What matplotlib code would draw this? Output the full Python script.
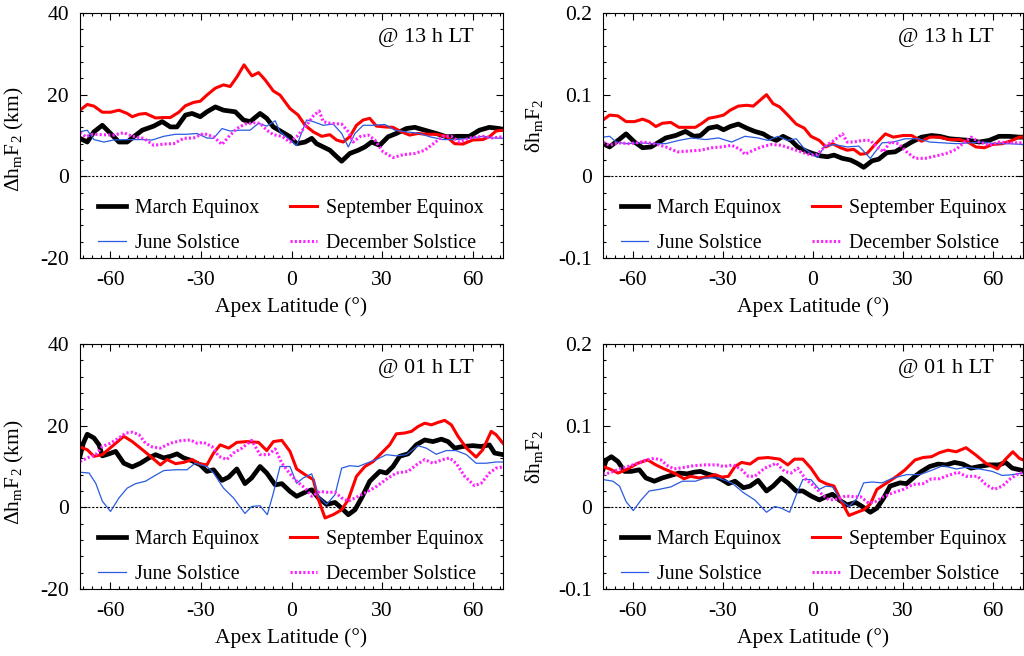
import matplotlib
matplotlib.use("Agg")
import matplotlib.pyplot as plt
from matplotlib.ticker import MultipleLocator, FuncFormatter

plt.rcParams["font.family"] = ["Liberation Serif", "DejaVu Serif"]
plt.rcParams["mathtext.fontset"] = "custom"
plt.rcParams["mathtext.rm"] = "Liberation Serif"
plt.rcParams["mathtext.it"] = "Liberation Serif:italic"
plt.rcParams["font.size"] = 15

# ---------------- 13 h LT, absolute difference (km) ----------------
d13_mar_lat = [-70, -67.6, -65.4, -62.6, -59.9, -57.1, -54.4, -52.2, -49.4, -45.6, -42.8, -40.1, -37.9,
               -35.1, -32.9, -30.2, -28.0, -25.2, -22.5, -18.6, -15.9, -13.7, -10.4, -8.2, -6.0, -3.2,
               -0.5, 1.7, 4.5, 6.7, 8.3, 10.5, 12.7, 14.4, 16.6, 19.3, 22.1, 24.3, 26.5, 29.2, 32.0,
               34.7, 38.0, 40.8, 44.1, 47.9, 51.2, 55.1, 58.9, 62.2, 65.5, 68.8, 70]
d13_mar_val = [9.3, 8.4, 10.9, 12.5, 10.5, 8.4, 8.4, 9.7, 11.3, 12.3, 13.4, 12.1, 12.1,
               15.0, 15.4, 14.6, 15.8, 17.0, 16.2, 15.8, 13.8, 13.4, 15.4, 14.2, 12.1, 10.9,
               9.7, 8.0, 8.4, 9.3, 8.0, 7.2, 6.4, 5.2, 3.7, 5.6, 6.4, 7.2, 8.4, 7.6, 9.7,
               10.5, 11.7, 12.0, 11.3, 10.5, 9.7, 9.8, 9.8, 11.3, 12.0, 11.7, 11.5]

d13_sep_lat = [-70, -67.6, -65.4, -62.6, -59.9, -57.1, -54.4, -52.7, -50.5, -48.3, -45.0, -42.3, -40.1,
               -37.3, -35.1, -32.4, -30.2, -28.0, -25.2, -22.5, -20.3, -18.1, -15.7, -13.1, -10.9, -8.7,
               -6.0, -3.8, -0.5, 2.2, 4.5, 7.2, 10.0, 12.7, 14.9, 17.1, 19.3, 21.5, 23.7, 25.9, 28.1,
               30.9, 33.6, 36.4, 39.1, 41.9, 44.6, 47.9, 51.2, 54.0, 56.7, 60.0, 63.3, 65.5, 67.7, 70]
d13_sep_val = [16.2, 17.6, 17.2, 15.7, 15.7, 16.2, 15.4, 14.6, 15.2, 15.4, 14.3, 14.4, 14.4,
               15.7, 17.3, 18.1, 18.4, 19.9, 21.6, 22.4, 22.0, 24.3, 27.3, 24.6, 25.4, 23.6,
               20.9, 19.9, 16.6, 15.0, 12.5, 10.9, 9.8, 10.2, 8.9, 8.4, 9.7, 12.5, 13.8, 14.2, 12.3,
               12.1, 12.0, 10.9, 10.1, 10.5, 10.3, 10.3, 9.8, 8.0, 7.9, 8.9, 9.0, 9.7, 11.1, 11.3]

d13_jun_lat = [-70, -67.6, -65.4, -62.1, -58.8, -54.4, -50.0, -46.1, -42.3, -38.4, -34.6, -31.3, -28.0,
               -25.8, -23.0, -20.3, -17.0, -13.7, -10.9, -8.2, -5.4, -3.8, -0.5, 1.7, 5.0, 7.2, 10.5,
               13.8, 16.6, 18.8, 21.0, 23.7, 27.0, 30.9, 34.2, 38.0, 42.4, 45.7, 50.1, 54.5, 58.9,
               63.3, 66.6, 70]
d13_jun_val = [10.9, 11.3, 9.0, 8.4, 8.9, 9.0, 9.0, 8.9, 9.8, 10.3, 10.3, 10.5, 9.4,
               9.3, 11.7, 11.1, 11.3, 11.3, 13.0, 12.3, 13.6, 10.9, 8.9, 7.5, 13.8, 13.4, 12.5,
               12.8, 10.5, 7.2, 10.5, 12.5, 12.5, 12.7, 11.3, 10.9, 10.5, 9.7, 9.0, 9.0, 9.3,
               9.8, 9.4, 9.3]

d13_dec_lat = [-70, -68.1, -65.9, -62.6, -58.8, -55.5, -52.7, -48.9, -45.6, -42.3, -39.0, -35.7, -32.4,
               -29.1, -25.8, -23.0, -20.8, -18.1, -15.4, -12.6, -10.4, -8.2, -6.0, -3.2, -0.5, 1.7,
               5.0, 7.2, 9.2, 10.5, 12.7, 16.6, 18.8, 20.4, 22.6, 25.4, 27.6, 30.3, 33.6, 36.9, 40.8,
               44.1, 46.8, 50.1, 52.9, 55.6, 58.9, 63.3, 66.6, 70]
d13_dec_val = [10.7, 9.7, 10.3, 10.2, 10.1, 10.7, 9.8, 9.3, 7.6, 7.9, 8.0, 9.3, 9.4,
               10.5, 9.7, 7.8, 9.7, 11.7, 12.8, 13.1, 13.0, 11.3, 10.2, 9.8, 8.4, 9.7,
               12.5, 14.8, 16.0, 13.4, 13.0, 12.8, 10.9, 8.4, 9.7, 10.1, 8.9, 6.0, 4.6, 5.3, 5.6,
               6.4, 7.9, 9.8, 9.8, 8.4, 9.4, 9.8, 9.4, 9.7]

# ---------------- 13 h LT, relative difference ----------------
r13_mar_lat = [-70, -67.8, -65.0, -62.3, -59.5, -56.8, -54.0, -51.3, -49.1, -45.8, -42.5, -39.7, -37.5,
               -34.8, -32.0, -29.8, -27.6, -24.9, -22.1, -19.4, -16.6, -14.4, -12.2, -10.0, -7.3, -5.1,
               -2.3, -0.1, 2.6, 4.8, 7.0, 9.8, 12.5, 14.7, 16.9, 19.7, 21.9, 24.6, 27.4, 30.1, 32.9,
               36.2, 39.5, 42.2, 45.5, 48.8, 52.1, 55.4, 58.7, 62.0, 65.3, 68.8, 70]
r13_mar_val = [0.040, 0.036, 0.044, 0.052, 0.042, 0.035, 0.036, 0.042, 0.047, 0.050, 0.055, 0.049, 0.050,
               0.059, 0.061, 0.057, 0.061, 0.064, 0.059, 0.055, 0.052, 0.047, 0.044, 0.049, 0.044, 0.036,
               0.031, 0.028, 0.025, 0.024, 0.026, 0.022, 0.020, 0.016, 0.011, 0.019, 0.021, 0.029, 0.030,
               0.036, 0.042, 0.048, 0.050, 0.049, 0.046, 0.045, 0.044, 0.042, 0.044, 0.049, 0.049, 0.048,
               0.048]

r13_sep_lat = [-70, -67.8, -65.0, -62.3, -59.5, -56.8, -54.6, -52.4, -50.2, -47.4, -44.7, -41.9, -39.2,
               -37.0, -34.8, -32.0, -29.8, -27.6, -24.9, -22.1, -19.9, -17.7, -15.5, -13.3, -11.1, -8.4,
               -5.6, -2.9, -0.7, 2.1, 4.3, 6.5, 9.2, 11.4, 13.6, 15.8, 18.0, 20.2, 24.1, 26.8, 30.1,
               32.9, 36.2, 38.9, 42.2, 45.5, 48.8, 51.6, 54.3, 57.1, 59.8, 63.1, 66.4, 68.8, 70]
r13_sep_val = [0.069, 0.075, 0.074, 0.067, 0.067, 0.070, 0.067, 0.061, 0.065, 0.066, 0.060, 0.060, 0.060,
               0.065, 0.071, 0.073, 0.075, 0.081, 0.086, 0.087, 0.086, 0.093, 0.100, 0.089, 0.085, 0.075,
               0.064, 0.059, 0.049, 0.044, 0.036, 0.040, 0.035, 0.032, 0.033, 0.027, 0.028, 0.037, 0.052,
               0.048, 0.050, 0.050, 0.043, 0.048, 0.048, 0.045, 0.045, 0.042, 0.036, 0.035, 0.039, 0.040,
               0.044, 0.048, 0.048]

r13_jun_lat = [-70, -67.8, -65.6, -62.3, -57.9, -53.5, -49.1, -44.7, -40.3, -35.9, -31.5, -27.1, -22.7,
               -18.3, -15.0, -11.7, -8.4, -5.6, -2.9, 1.5, 3.7, 7.0, 11.4, 15.3, 19.1, 23.0, 26.8, 30.7,
               35.1, 38.9, 43.3, 47.7, 52.1, 56.5, 60.9, 65.3, 70]
r13_jun_val = [0.048, 0.049, 0.042, 0.040, 0.041, 0.040, 0.040, 0.044, 0.047, 0.045, 0.047, 0.042, 0.049,
               0.047, 0.044, 0.049, 0.044, 0.046, 0.034, 0.023, 0.036, 0.039, 0.036, 0.037, 0.022, 0.041,
               0.042, 0.046, 0.046, 0.042, 0.041, 0.040, 0.041, 0.042, 0.040, 0.040, 0.039]

r13_dec_lat = [-70, -67.8, -65.0, -61.2, -56.8, -52.9, -49.1, -45.2, -41.4, -37.5, -33.7, -30.4, -27.1,
               -24.3, -22.7, -19.9, -17.2, -13.9, -10.6, -7.3, -4.0, -0.7, 1.5, 4.3, 7.0, 9.8, 11.4,
               13.6, 16.4, 19.1, 21.3, 23.5, 25.7, 28.5, 31.2, 34.0, 37.3, 41.1, 44.4, 47.7, 50.5, 52.7,
               55.4, 58.7, 62.0, 65.3, 70]
r13_dec_val = [0.042, 0.038, 0.041, 0.040, 0.042, 0.040, 0.036, 0.030, 0.031, 0.032, 0.035, 0.036, 0.038,
               0.033, 0.027, 0.032, 0.036, 0.039, 0.038, 0.034, 0.030, 0.026, 0.027, 0.038, 0.044, 0.052,
               0.042, 0.042, 0.044, 0.044, 0.036, 0.030, 0.042, 0.040, 0.030, 0.022, 0.022, 0.025, 0.028,
               0.033, 0.042, 0.048, 0.042, 0.038, 0.042, 0.041, 0.041]

# ---------------- 01 h LT, absolute difference (km) ----------------
d01_mar_lat = [-70, -68.9, -67.6, -65.4, -63.7, -62.6, -60.4, -58.2, -55.5, -52.7, -50.0, -47.2, -45.0,
               -42.3, -40.1, -37.9, -35.7, -32.9, -30.2, -28.0, -25.8, -23.0, -20.8, -18.1, -15.4, -13.2,
               -10.4, -8.2, -5.4, -3.2, -0.5, 1.7, 4.5, 6.7, 8.9, 11.6, 14.4, 16.6, 18.8, 21.0, 23.2,
               25.9, 29.2, 31.4, 33.6, 35.8, 38.6, 41.3, 44.1, 46.8, 49.6, 51.8, 54.0, 56.7, 60.0, 62.8,
               65.5, 67.2, 70]
d01_mar_val = [12.5, 15.7, 17.9, 17.0, 15.3, 12.6, 13.1, 13.7, 10.8, 9.9, 10.8, 12.1, 12.9,
               12.1, 12.5, 13.1, 12.1, 11.4, 10.4, 8.8, 9.2, 6.6, 7.4, 9.4, 5.8, 7.2,
               10.0, 8.4, 5.5, 5.8, 3.9, 2.7, 3.7, 4.3, 2.3, 0.7, 1.2, -0.2, -1.8, -0.6, 2.3,
               6.4, 8.8, 8.4, 10.0, 12.5, 13.1, 15.3, 16.5, 16.1, 16.7, 16.1, 14.5, 14.9, 15.1, 14.9,
               15.3, 13.3, 12.9]

d01_sep_lat = [-70, -67.6, -65.4, -62.6, -58.8, -55.5, -52.7, -50.0, -46.7, -43.4, -41.2, -38.4, -35.7,
               -32.9, -30.7, -28.0, -25.8, -23.6, -20.8, -18.1, -14.8, -10.9, -8.2, -6.0, -3.2, -0.5,
               1.7, 4.5, 7.2, 8.9, 11.1, 13.8, 16.6, 18.8, 21.5, 24.3, 27.0, 29.8, 32.5, 34.7, 37.5,
               39.7, 41.9, 44.1, 46.3, 48.5, 50.7, 52.9, 55.1, 57.9, 61.1, 63.3, 66.1, 67.7, 70]
d01_sep_val = [14.8, 14.1, 12.5, 12.9, 15.3, 17.4, 16.1, 14.5, 12.5, 10.4, 11.7, 10.7, 11.0,
               11.7, 10.7, 10.4, 13.3, 15.3, 14.5, 15.9, 16.1, 15.9, 13.9, 16.1, 16.4, 13.7,
               9.4, 8.0, 6.8, 1.9, -2.6, -1.8, -0.6, 1.9, 7.6, 10.0, 11.2, 13.3, 15.3, 18.0, 18.2,
               18.6, 19.8, 20.6, 20.2, 20.8, 21.3, 20.2, 17.4, 14.5, 12.3, 14.1, 18.6, 17.8, 15.7]

d01_jun_lat = [-70, -67.0, -64.8, -62.6, -59.9, -57.1, -54.4, -51.6, -48.3, -45.6, -42.3, -38.4, -34.6,
               -31.9, -28.0, -25.8, -22.5, -19.2, -15.4, -13.2, -10.4, -8.0, -6.0, -3.8, -0.5, 1.7,
               3.9, 6.7, 8.9, 11.6, 14.4, 16.6, 19.3, 22.1, 24.8, 28.1, 31.4, 34.7, 38.0, 41.9, 44.6,
               47.9, 51.2, 54.5, 57.9, 61.1, 64.4, 67.7, 70]
d01_jun_val = [8.6, 8.4, 5.9, 1.5, -1.0, 2.3, 4.7, 5.8, 6.4, 7.6, 9.0, 9.2, 9.2,
               10.8, 10.0, 8.4, 4.7, 2.3, -1.5, 0.2, 0.4, -1.8, 3.5, 10.0, 10.0, 5.9,
               7.2, 8.2, 2.7, 0.7, 3.1, 9.6, 10.2, 10.0, 10.8, 11.7, 12.9, 12.6, 12.9, 15.1, 14.5,
               13.0, 13.9, 13.9, 12.9, 10.8, 10.8, 11.1, 11.1]

d01_dec_lat = [-70, -67.6, -64.8, -62.6, -59.9, -57.1, -54.9, -52.7, -50.5, -48.3, -46.1, -43.4, -40.1,
               -36.8, -33.5, -31.3, -29.1, -26.3, -24.1, -21.4, -19.2, -16.4, -13.2, -10.4, -7.7, -5.4,
               -3.2, -0.5, 1.7, 4.5, 6.7, 9.4, 11.6, 14.4, 16.6, 18.8, 21.0, 24.3, 28.1, 32.0, 34.7,
               38.6, 41.3, 44.1, 46.8, 50.1, 52.3, 54.5, 57.3, 60.6, 62.8, 65.5, 67.7, 70]
d01_dec_val = [11.2, 12.1, 12.9, 14.9, 15.7, 17.0, 18.2, 18.4, 17.8, 15.7, 14.8, 14.5, 15.7,
               16.3, 16.5, 15.7, 15.9, 14.9, 12.5, 11.7, 13.3, 14.5, 16.4, 12.9, 12.9, 14.3,
               10.8, 8.2, 6.4, 4.7, 2.7, 3.9, 3.7, 3.7, 2.3, 1.5, 2.3, 3.5, 5.1, 7.2, 8.4,
               8.8, 10.4, 11.7, 10.8, 11.7, 12.1, 10.8, 7.6, 5.3, 5.9, 8.4, 9.6, 9.9]

# ---------------- 01 h LT, relative difference ----------------
r01_mar_lat = [-70, -68.9, -67.2, -65.0, -62.8, -60.6, -57.9, -55.7, -52.9, -50.2, -47.4, -44.7, -41.9,
               -39.7, -37.5, -35.3, -32.6, -30.4, -28.2, -26.0, -23.2, -21.0, -18.3, -15.5, -13.3, -10.6,
               -8.4, -5.6, -3.4, -0.7, 2.1, 4.3, 6.5, 8.7, 11.4, 14.2, 16.4, 19.1, 21.3, 23.5, 25.7,
               29.0, 31.2, 34.0, 36.2, 38.9, 41.7, 44.4, 47.2, 49.9, 52.7, 55.4, 58.7, 62.0, 64.2, 66.4,
               68.8, 70]
r01_mar_val = [0.046, 0.058, 0.062, 0.056, 0.044, 0.044, 0.046, 0.036, 0.032, 0.036, 0.039, 0.042, 0.041,
               0.043, 0.044, 0.041, 0.038, 0.034, 0.029, 0.032, 0.024, 0.026, 0.033, 0.020, 0.026, 0.036,
               0.030, 0.020, 0.020, 0.014, 0.009, 0.013, 0.016, 0.009, 0.003, 0.006, 0.001, -0.006,
               -0.001, 0.011, 0.026, 0.030, 0.029, 0.038, 0.044, 0.050, 0.053, 0.052, 0.055, 0.053, 0.048,
               0.050, 0.052, 0.052, 0.055, 0.048, 0.046, 0.045]

r01_sep_lat = [-70, -67.8, -65.0, -62.3, -58.4, -55.1, -52.4, -49.6, -46.3, -43.0, -40.8, -38.1, -35.3,
               -32.6, -30.4, -28.2, -26.0, -23.8, -21.0, -18.3, -15.0, -11.1, -8.4, -6.2, -3.4, -0.7,
               2.1, 4.3, 7.0, 9.2, 12.0, 14.7, 16.9, 19.1, 21.3, 24.6, 27.9, 30.7, 34.0, 36.7, 39.5,
               42.2, 45.0, 47.7, 51.0, 54.3, 57.6, 61.5, 64.2, 66.6, 68.8, 70]
r01_sep_val = [0.050, 0.047, 0.042, 0.046, 0.054, 0.058, 0.052, 0.047, 0.042, 0.035, 0.038, 0.036, 0.037,
               0.040, 0.037, 0.038, 0.050, 0.055, 0.053, 0.060, 0.061, 0.059, 0.052, 0.059, 0.059, 0.048,
               0.033, 0.029, 0.026, 0.009, -0.010, -0.006, -0.003, 0.004, 0.022, 0.030, 0.038, 0.046,
               0.058, 0.061, 0.062, 0.067, 0.070, 0.068, 0.073, 0.064, 0.054, 0.047, 0.059, 0.068, 0.060,
               0.058]

r01_jun_lat = [-70, -66.7, -64.5, -62.3, -59.9, -57.3, -54.6, -51.3, -47.4, -43.6, -39.2, -35.9, -31.5,
               -27.1, -23.2, -19.4, -15.5, -12.8, -10.6, -7.8, -5.6, -3.4, -0.7, 2.1, 4.3, 6.5, 9.2,
               12.0, 14.7, 16.9, 19.7, 23.0, 26.8, 31.2, 35.6, 40.0, 43.3, 47.7, 51.0, 55.4, 59.8, 63.1,
               66.4, 70]
r01_jun_val = [0.034, 0.032, 0.026, 0.007, -0.004, 0.009, 0.020, 0.022, 0.025, 0.032, 0.032, 0.036, 0.036,
               0.030, 0.018, 0.009, -0.006, 0.001, -0.001, -0.006, 0.015, 0.034, 0.034, 0.022, 0.026,
               0.025, 0.009, 0.001, 0.011, 0.030, 0.031, 0.030, 0.036, 0.040, 0.040, 0.046, 0.051, 0.047,
               0.049, 0.047, 0.044, 0.039, 0.040, 0.042]

r01_dec_lat = [-70, -67.2, -64.5, -61.7, -58.4, -55.7, -52.9, -50.7, -48.5, -46.3, -43.0, -39.7, -35.9,
               -32.0, -29.8, -26.5, -23.8, -21.6, -19.4, -16.1, -12.2, -9.5, -7.3, -5.1, -2.3, 0.4, 3.2,
               5.4, 8.1, 10.9, 13.6, 15.8, 18.6, 20.8, 23.5, 26.8, 30.1, 33.4, 36.7, 39.5, 42.2, 45.0,
               48.3, 51.0, 54.9, 57.6, 60.4, 63.1, 65.8, 68.8, 70]
r01_dec_val = [0.040, 0.043, 0.047, 0.050, 0.054, 0.058, 0.060, 0.058, 0.051, 0.047, 0.049, 0.051, 0.052,
               0.052, 0.050, 0.052, 0.046, 0.038, 0.038, 0.048, 0.054, 0.044, 0.042, 0.048, 0.034, 0.026,
               0.015, 0.009, 0.010, 0.014, 0.013, 0.013, 0.005, 0.007, 0.013, 0.018, 0.022, 0.028, 0.029,
               0.035, 0.035, 0.039, 0.043, 0.038, 0.038, 0.028, 0.022, 0.026, 0.035, 0.042, 0.042]

season_names = ["March Equinox", "September Equinox", "June Solstice", "December Solstice"]
season_styles = [
    dict(color="black", lw=3.4, ls="-"),
    dict(color="#ff0000", lw=2.2, ls="-"),
    dict(color="#2a5be0", lw=0.9, ls="-"),
    dict(color="#ff22ff", lw=2.2, ls=(0, (0.7, 0.7))),
]

panels = [
    dict(rect=[80 / 1024, 1 - 258 / 656, 423 / 1024, 245 / 656], lt="@ 13 h LT",
         series=[(d13_mar_lat, d13_mar_val), (d13_sep_lat, d13_sep_val),
                 (d13_jun_lat, d13_jun_val), (d13_dec_lat, d13_dec_val)],
         ylim=(-20, 40), ymajor=20, yminor=4, ylabel="Δh$_\\mathrm{m}$F$_2$ (km)",
         ylpos=(-0.127, 0.485)),
    dict(rect=[603 / 1024, 1 - 258 / 656, 420 / 1024, 245 / 656], lt="@ 13 h LT",
         series=[(r13_mar_lat, r13_mar_val), (r13_sep_lat, r13_sep_val),
                 (r13_jun_lat, r13_jun_val), (r13_dec_lat, r13_dec_val)],
         ylim=(-0.1, 0.2), ymajor=0.1, yminor=0.02, ylabel="δh$_\\mathrm{m}$F$_2$",
         ylpos=(-0.138, 0.54)),
    dict(rect=[80 / 1024, 1 - 589 / 656, 423 / 1024, 245 / 656], lt="@ 01 h LT",
         series=[(d01_mar_lat, d01_mar_val), (d01_sep_lat, d01_sep_val),
                 (d01_jun_lat, d01_jun_val), (d01_dec_lat, d01_dec_val)],
         ylim=(-20, 40), ymajor=20, yminor=4, ylabel="Δh$_\\mathrm{m}$F$_2$ (km)",
         ylpos=(-0.127, 0.475)),
    dict(rect=[603 / 1024, 1 - 589 / 656, 420 / 1024, 245 / 656], lt="@ 01 h LT",
         series=[(r01_mar_lat, r01_mar_val), (r01_sep_lat, r01_sep_val),
                 (r01_jun_lat, r01_jun_val), (r01_dec_lat, r01_dec_val)],
         ylim=(-0.1, 0.2), ymajor=0.1, yminor=0.02, ylabel="δh$_\\mathrm{m}$F$_2$",
         ylpos=(-0.138, 0.54)),
]

fig = plt.figure(figsize=(10.24, 6.56), dpi=100)

for p in panels:
    ax = fig.add_axes(p["rect"])
    ax.axhline(0, color="black", lw=0.8, ls=(0, (2, 1.5)), zorder=1)
    lines = []
    for (lat, val), name, st in zip(p["series"], season_names, season_styles):
        (ln,) = ax.plot(lat, val, label=name, solid_joinstyle="round", **st)
        lines.append(ln)
    ax.set_xlim(-70, 70)
    ax.set_ylim(*p["ylim"])
    ax.xaxis.set_major_locator(MultipleLocator(30))
    ax.xaxis.set_minor_locator(MultipleLocator(3))
    ax.yaxis.set_major_locator(MultipleLocator(p["ymajor"]))
    ax.yaxis.set_minor_locator(MultipleLocator(p["yminor"]))
    ax.yaxis.set_major_formatter(FuncFormatter(lambda v, pos: f"{v:g}"))
    ax.xaxis.set_major_formatter(FuncFormatter(lambda v, pos: f"{v:g}"))
    ax.tick_params(which="both", direction="in", top=True, right=True, labelsize=15.5, pad=8, width=0.8)
    ax.tick_params(axis="x", which="major", pad=9.5)
    ax.tick_params(which="major", length=5)
    ax.tick_params(which="minor", length=2.5)
    for s in ax.spines.values():
        s.set_linewidth(0.8)
    ax.set_xlabel("Apex Latitude (°)", fontsize=15.5, labelpad=5)
    ax.set_ylabel(p["ylabel"], fontsize=15.5)
    ax.yaxis.set_label_coords(*p["ylpos"])
    ax.text(0.93, 0.90, p["lt"], transform=ax.transAxes, ha="right", va="center", fontsize=16)
    order = [lines[0], lines[2], lines[1], lines[3]]
    ax.legend(handles=order, ncol=2, loc="lower left", bbox_to_anchor=(0.042, 0.02),
              frameon=False, borderpad=0, borderaxespad=0, handlelength=1.4,
              handletextpad=0.45, columnspacing=1.55, labelspacing=0.8, fontsize=14.3)

fig.savefig("out.png", dpi=100)
